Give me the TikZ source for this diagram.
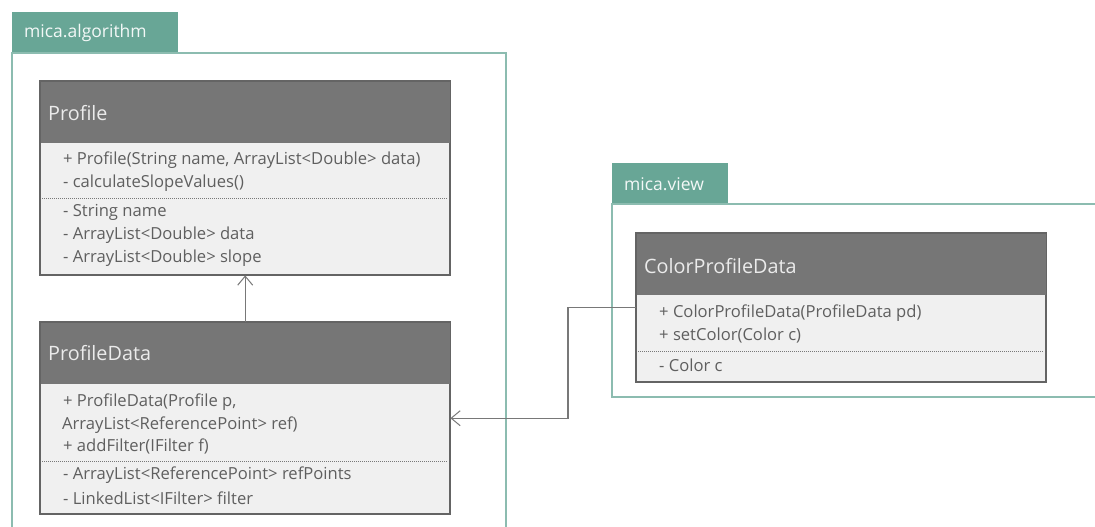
\documentclass[tikz,border=0pt]{standalone}
\usepackage{fontspec}
\setmainfont{Open Sans}
\usetikzlibrary{arrows.meta,calc}
\definecolor{tabteal}{RGB}{104,166,150}
\definecolor{frameteal}{RGB}{140,188,176}
\definecolor{hdrgray}{RGB}{118,118,118}
\definecolor{bodygray}{RGB}{240,240,240}
\definecolor{bordergray}{RGB}{100,100,100}
\definecolor{txtgray}{RGB}{95,95,95}
\definecolor{linegray}{RGB}{120,120,120}
\tikzset{
  pkgframe/.style={draw=frameteal,line width=1.6pt,fill=white},
  pkgtab/.style={fill=tabteal,draw=tabteal,line width=1pt},
  tablabel/.style={anchor=west,text=white!92!tabteal,font=\fontsize{17.5}{19}\selectfont,inner sep=0},
  classbox/.style={draw=bordergray,line width=1.4pt,fill=bodygray,inner sep=0,anchor=north west},
  hdr/.style={fill=hdrgray},
  title/.style={anchor=west,text=white!92!black,font=\fontsize{19.8}{22}\selectfont,inner sep=0},
  member/.style={anchor=west,text=txtgray,font=\fontsize{16.6}{19}\selectfont,inner sep=0},
  sep/.style={draw=linegray,dash pattern=on 1.2pt off 0.8pt,line width=0.8pt},
  assoc/.style={draw=linegray,line width=1.2pt,-{Straight Barb[length=9pt,width=15pt,line width=1pt]}}
}
\begin{document}
\begin{tikzpicture}[x=1pt,y=-1pt]
\useasboundingbox (0,0) rectangle (1095,527);
\clip (0,0) rectangle (1095,527);
% package mica.algorithm
\draw[pkgtab] (12,13) rectangle (177,53);
\node[tablabel] (algolbl) at (24,33) {mica.algorithm};
\draw[pkgframe] (12,53) rectangle (506,540);
% package mica.view
\draw[pkgtab] (612,163) rectangle (727,204);
\node[tablabel] (viewlbl) at (624,184) {mica.view};
\draw[pkgframe] (612,204) rectangle (1110,397);
% Profile
\node[classbox,minimum width=409pt,minimum height=193pt] (profile) at (40,81) {};
\fill[hdr] (profile.north west) rectangle ($(profile.north east)+(0,62)$);
\draw[draw=bordergray,line width=1.4pt] (profile.north west) rectangle (profile.south east);
\node[title] (ptitle) at (48,113) {Profile};
\node[member] (p1) at (63,160) {+ Profile(String name, ArrayList<Double> data)};
\node[member] (p2) at (63,183) {- calculateSlopeValues()};
\draw[sep] (42,198) -- (447,198);
\node[member] (p3) at (63,212) {- String name};
\node[member] (p4) at (63,235) {- ArrayList<Double> data};
\node[member] (p5) at (63,258) {- ArrayList<Double> slope};
% ProfileData
\node[classbox,minimum width=409pt,minimum height=191pt] (pd) at (40,322) {};
\fill[hdr] (pd.north west) rectangle ($(pd.north east)+(0,62)$);
\draw[draw=bordergray,line width=1.4pt] (pd.north west) rectangle (pd.south east);
\node[title] (pdtitle) at (48,353) {ProfileData};
\node[member] (d1) at (63,402) {+ ProfileData(Profile p,};
\node[member] (d2) at (62,425) {ArrayList<ReferencePoint> ref)};
\node[member] (d3) at (63,446) {+ addFilter(IFilter f)};
\draw[sep] (42,461) -- (447,461);
\node[member] (d4) at (63,475) {- ArrayList<ReferencePoint> refPoints};
\node[member] (d5) at (63,498) {- LinkedList<IFilter> filter};
% ColorProfileData
\node[classbox,minimum width=409pt,minimum height=148pt] (cpd) at (636,233) {};
\fill[hdr] (cpd.north west) rectangle ($(cpd.north east)+(0,62)$);
\draw[draw=bordergray,line width=1.4pt] (cpd.north west) rectangle (cpd.south east);
\node[title] (ctitle) at (644,266) {ColorProfileData};
\node[member] (c1) at (659,313) {+ ColorProfileData(ProfileData pd)};
\node[member] (c2) at (659,336) {+ setColor(Color c)};
\draw[sep] (638,351) -- (1043,351);
\node[member] (c3) at (659,365) {- Color c};
% connectors
\coordinate (bend) at (568,0);
\draw[assoc] (pd.north) -- (profile.south);
\draw[assoc] (cpd.west) -- (cpd.west -| bend) |- (pd.east);
\end{tikzpicture}
\end{document}
